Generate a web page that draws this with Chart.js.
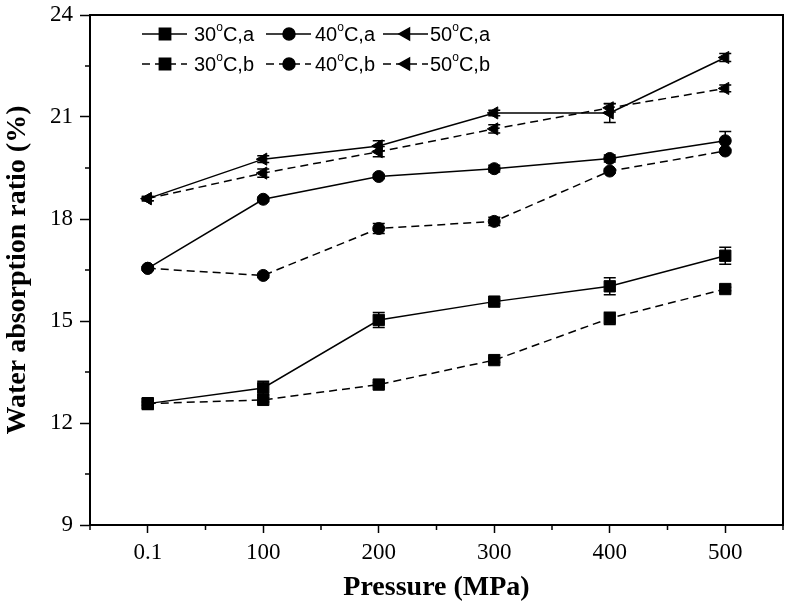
<!DOCTYPE html>
<html>
<head>
<meta charset="utf-8">
<script src="https://cdn.jsdelivr.net/npm/chart.js@4/dist/chart.umd.min.js"></script>
<style>
  body { margin: 0; background: #fff; }
  #wrap { width: 786px; height: 607px; }
</style>
</head>
<body>
<div id="wrap"><canvas id="waterChart"></canvas></div>
<script>
// ===== data =====
const pressures = ['0.1', '100', '200', '300', '400', '500'];
const seriesLabels = ['30°C,a', '40°C,a', '50°C,a', '30°C,b', '40°C,b', '50°C,b'];

const w30a = [12.57, 13.03, 15.03, 15.57, 16.02, 16.92];
const w40a = [16.55, 18.58, 19.25, 19.48, 19.78, 20.30];
const w50a = [18.60, 19.76, 20.15, 21.12, 21.12, 22.75];
const w30b = [12.57, 12.68, 13.13, 13.85, 15.08, 15.94];
const w40b = [16.55, 16.34, 17.72, 17.93, 19.41, 20.00];
const w50b = [18.60, 19.35, 19.98, 20.65, 21.27, 21.84];

const e30a = [0.17, 0.20, 0.22, 0.06, 0.25, 0.25];
const e40a = [0.05, 0.06, 0.06, 0.10, 0.10, 0.27];
const e50a = [0.06, 0.10, 0.15, 0.08, 0.28, 0.12];
const e30b = [0.05, 0.06, 0.06, 0.06, 0.18, 0.05];
const e40b = [0.05, 0.06, 0.15, 0.12, 0.06, 0.05];
const e50b = [0.06, 0.12, 0.15, 0.12, 0.12, 0.10];

const yTicksMajor = [9, 12, 15, 18, 21, 24];
const yTicksMinor = [10.5, 13.5, 16.5, 19.5, 22.5];

const serifFont = "'Liberation Serif', 'Times New Roman', serif";
const sansFont = "'Liberation Sans', Arial, sans-serif";

function makeSet(label, data, err, shape, dashed) {
  return {
    label: label,
    data: data,
    errors: err,
    borderColor: '#000',
    backgroundColor: '#000',
    borderWidth: 1.5,
    borderDash: dashed ? [8, 5] : [],
    pointStyle: shape,
    pointRadius: shape === 'rect' ? 8 : (shape === 'triangle' ? 7 : 6),
    pointRotation: shape === 'triangle' ? -90 : 0,
    pointBackgroundColor: '#000',
    pointBorderColor: '#000',
    pointBorderWidth: 1,
    tension: 0
  };
}

const datasets = [
  makeSet(seriesLabels[0], w30a, e30a, 'rect', false),
  makeSet(seriesLabels[1], w40a, e40a, 'circle', false),
  makeSet(seriesLabels[2], w50a, e50a, 'triangle', false),
  makeSet(seriesLabels[3], w30b, e30b, 'rect', true),
  makeSet(seriesLabels[4], w40b, e40b, 'circle', true),
  makeSet(seriesLabels[5], w50b, e50b, 'triangle', true)
];

// error bars, frame, minor ticks and the two-row legend
const framePlugin = {
  id: 'framePlugin',
  afterDatasetsDraw(chart) {
    const ctx = chart.ctx;
    const xs = chart.scales.x, ys = chart.scales.y;
    ctx.save();
    ctx.strokeStyle = '#000';
    ctx.lineWidth = 1.5;
    chart.data.datasets.forEach(ds => {
      ds.data.forEach((v, i) => {
        const x = xs.getPixelForValue(i);
        const y1 = ys.getPixelForValue(v + ds.errors[i]);
        const y2 = ys.getPixelForValue(v - ds.errors[i]);
        ctx.beginPath();
        ctx.moveTo(x, y1); ctx.lineTo(x, y2);
        ctx.moveTo(x - 6, y1); ctx.lineTo(x + 6, y1);
        ctx.moveTo(x - 6, y2); ctx.lineTo(x + 6, y2);
        ctx.stroke();
      });
    });
    ctx.restore();
  },
  afterDraw(chart) {
    const ctx = chart.ctx;
    const a = chart.chartArea;
    const xs = chart.scales.x, ys = chart.scales.y;
    ctx.save();
    ctx.strokeStyle = '#000';
    ctx.lineWidth = 2;
    ctx.strokeRect(a.left, a.top, a.right - a.left, a.bottom - a.top);

    // minor ticks
    ctx.lineWidth = 1.5;
    ctx.beginPath();
    yTicksMinor.forEach(v => {
      const y = ys.getPixelForValue(v);
      ctx.moveTo(a.left - 5, y); ctx.lineTo(a.left, y);
    });
    for (let i = 0; i <= pressures.length; i++) {
      const x = i === 0 ? a.left : (i === pressures.length ? a.right
        : (xs.getPixelForValue(i - 1) + xs.getPixelForValue(i)) / 2);
      ctx.moveTo(x, a.bottom); ctx.lineTo(x, a.bottom + 5);
    }
    ctx.stroke();

    // legend
    const colX = [142, 266, 383];
    const textGap = [7, 4, 2];
    const rowY = [34, 64];
    chart.data.datasets.forEach((ds, k) => {
      const col = k % 3, row = Math.floor(k / 3);
      const x0 = colX[col], y = rowY[row];
      ctx.save();
      ctx.lineWidth = 1.5;
      ctx.setLineDash(ds.borderDash);
      ctx.beginPath();
      ctx.moveTo(x0, y); ctx.lineTo(x0 + 45, y);
      ctx.stroke();
      ctx.restore();
      Chart.helpers.drawPoint(ctx, {
        pointStyle: ds.pointStyle,
        radius: ds.pointRadius,
        rotation: ds.pointRotation,
        borderWidth: 1
      }, x0 + 23, y);
      ctx.fillStyle = '#000';
      const parts = ds.label.split('°');
      let tx = x0 + 45 + textGap[col];
      ctx.textBaseline = 'middle';
      ctx.textAlign = 'left';
      ctx.font = '20px ' + sansFont;
      ctx.fillText(parts[0], tx, y + 1);
      tx += ctx.measureText(parts[0]).width;
      ctx.font = '12px ' + sansFont;
      ctx.fillText('o', tx, y - 6);
      tx += ctx.measureText('o').width;
      ctx.font = '20px ' + sansFont;
      ctx.fillText(parts[1], tx, y + 1);
    });
    ctx.restore();
  }
};

new Chart(document.getElementById('waterChart'), {
  type: 'line',
  data: { labels: pressures, datasets: datasets },
  options: {
    responsive: true,
    maintainAspectRatio: false,
    animation: false,
    layout: { autoPadding: false, padding: { top: 15, right: 3, left: 0, bottom: 0 } },
    plugins: { legend: { display: false }, tooltip: { enabled: false } },
    scales: {
      x: {
        type: 'category',
        offset: true,
        afterFit: s => { s.height = 82; s.paddingLeft = 0; s.paddingRight = 0; },
        grid: { offset: false, drawOnChartArea: false, tickLength: 8, tickColor: '#000', tickWidth: 1.5 },
        border: { color: '#000', width: 2 },
        ticks: { color: '#000', padding: 6, font: { family: serifFont, size: 23 }, maxRotation: 0 },
        title: { display: true, text: 'Pressure (MPa)', color: '#000', padding: { top: 0, bottom: 2 },
                 font: { family: serifFont, size: 28, weight: 'bold' } }
      },
      y: {
        min: 9,
        max: 24,
        afterFit: s => { s.width = 90; s.paddingTop = 0; s.paddingBottom = 0; },
        afterBuildTicks: s => { s.ticks = yTicksMajor.map(v => ({ value: v })); },
        grid: { drawOnChartArea: false, tickLength: 10, tickColor: '#000', tickWidth: 1.5 },
        border: { color: '#000', width: 2 },
        ticks: { color: '#000', padding: 7, font: { family: serifFont, size: 23 } },
        title: { display: true, text: 'Water absorption ratio (%)', color: '#000', padding: { top: 1, bottom: 0 },
                 font: { family: serifFont, size: 28, weight: 'bold' } }
      }
    }
  },
  plugins: [framePlugin]
});
</script>
</body>
</html>
